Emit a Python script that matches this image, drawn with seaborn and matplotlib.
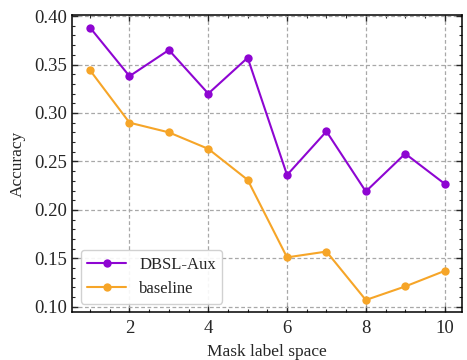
import matplotlib
matplotlib.use("Agg")
import matplotlib.pyplot as plt
import seaborn as sns
import pandas as pd
from matplotlib.ticker import MultipleLocator

mask_space = [1, 2, 3, 4, 5, 6, 7, 8, 9, 10]
dbsl_aux = [0.388, 0.338, 0.365, 0.320, 0.357, 0.236, 0.281, 0.219, 0.258, 0.227]
baseline = [0.344, 0.290, 0.280, 0.263, 0.231, 0.151, 0.157, 0.107, 0.121, 0.137]
series_names = ["DBSL-Aux", "baseline"]
colors = ["#8E05D2", "#F6A528"]

df = pd.DataFrame({
    "x": mask_space * 2,
    "acc": dbsl_aux + baseline,
    "method": [series_names[0]] * len(mask_space) + [series_names[1]] * len(mask_space),
})

sns.set_style("ticks")
plt.rcParams["font.family"] = ["Liberation Serif", "DejaVu Serif"]
plt.rcParams["mathtext.fontset"] = "stix"

fig, ax = plt.subplots(figsize=(4.67, 3.6), dpi=100)
sns.lineplot(data=df, x="x", y="acc", hue="method", palette=colors,
             marker="o", markersize=6, markeredgewidth=0, linewidth=1.5, ax=ax)

ax.set_xlabel("Mask label space", fontsize=12.5, labelpad=5)
ax.set_ylabel("Accuracy", fontsize=12.5, labelpad=6)
ax.set_xticks([2, 4, 6, 8, 10])
ax.set_yticks([0.10, 0.15, 0.20, 0.25, 0.30, 0.35, 0.40])
ax.set_yticklabels(["0.10", "0.15", "0.20", "0.25", "0.30", "0.35", "0.40"])
ax.xaxis.set_minor_locator(MultipleLocator(0.5))
ax.yaxis.set_minor_locator(MultipleLocator(0.01))
ax.tick_params(which="both", direction="in", top=True, right=True, labelsize=13.5)
ax.tick_params(axis="x", which="major", pad=6)
ax.tick_params(which="major", length=4, width=1)
ax.tick_params(which="minor", length=2.2, width=0.8)
ax.set_xlim(0.55, 10.45)
ax.set_ylim(0.0945, 0.401)
ax.grid(True, linestyle=(0, (3, 2)), color="#A8A8A8", linewidth=0.9)
for s in ax.spines.values():
    s.set_linewidth(1.1)
    s.set_color("black")

leg = ax.legend(loc="lower left", fontsize=12, frameon=True, fancybox=True,
                framealpha=0.9, edgecolor="#CCCCCC", handlelength=2.3)
leg.set_title(None)

fig.subplots_adjust(left=0.155, right=0.99, top=0.958, bottom=0.133)
fig.savefig("out.png", dpi=100)
